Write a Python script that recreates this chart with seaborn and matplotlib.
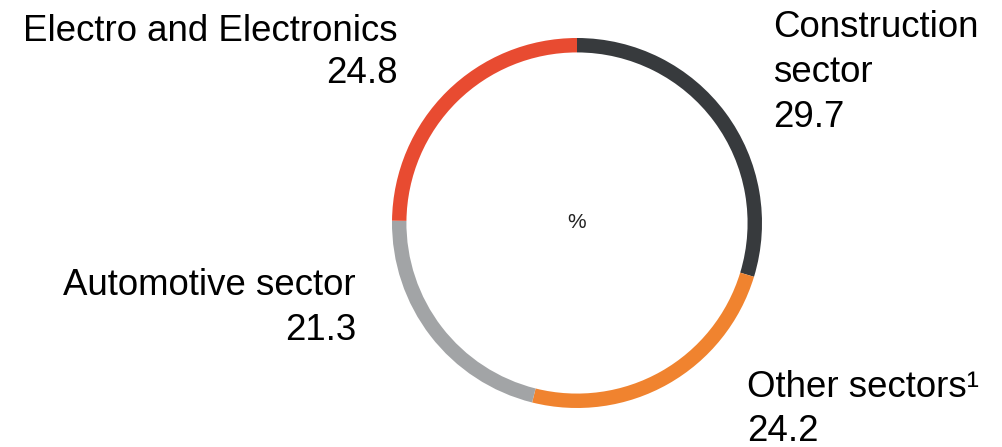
import matplotlib.pyplot as plt
import seaborn as sns

sectors = ["Construction sector", "Other sectors", "Automotive sector", "Electro and Electronics"]
shares = [29.7, 24.2, 21.3, 24.8]
colors = ["#373a3d", "#f0832f", "#a2a4a6", "#e84b31"]

sns.set_theme(style="white")
plt.rcParams['font.family'] = ['Liberation Sans', 'DejaVu Sans']

W, H = 1003, 447
fig = plt.figure(figsize=(W / 100, H / 100), dpi=100)
fig.patch.set_facecolor("white")

# donut: centre (577, 223) px, radius 185 px
cx, cy, r = 577, 223, 185
ax = fig.add_axes([(cx - r) / W, (H - cy - r) / H, 2 * r / W, 2 * r / H])
ax.pie(shares, colors=colors, startangle=90, counterclock=False, radius=1,
       wedgeprops=dict(width=0.078, linewidth=0))
ax.set_aspect("equal")
ax.set_xlim(-1, 1)
ax.set_ylim(-1, 1)
ax.axis("off")
ax.text(0, 0, "%", ha="center", va="center", fontsize=15, color="#222222")


def label(x, y, s, ha):
    fig.text(x / W, 1 - y / H, s, ha=ha, va="baseline", fontsize=26.4, color="black")


label(398, 41, "Electro and Electronics", "right")
label(398, 83, f"{shares[3]}", "right")

label(773, 37, "Construction", "left")
label(773, 82, "sector", "left")
label(773, 127, f"{shares[0]}", "left")

label(356, 295, "Automotive sector", "right")
label(356, 340, f"{shares[2]}", "right")

label(747, 397, "Other sectors\u00b9", "left")
label(747, 441, f"{shares[1]}", "left")

fig.savefig("out.png", dpi=100, facecolor="white")
